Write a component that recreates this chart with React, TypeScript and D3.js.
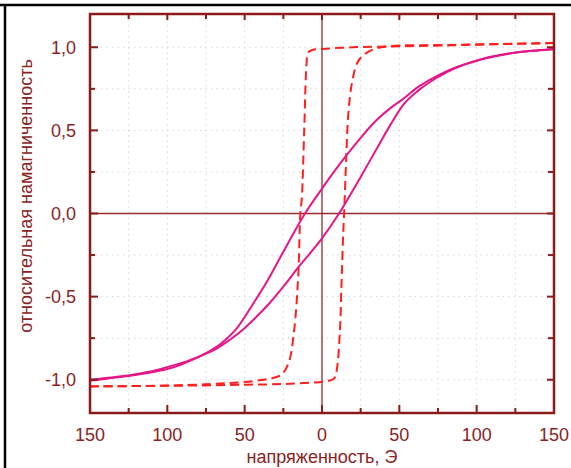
import React from "react";
import * as d3 from "d3";

// Magnetization loop (solid magenta), both branches listed with H increasing
// descending branch (upper one; coming from +saturation)
const solidDescX = [-150, -128, -110, -96, -85, -75, -65, -55, -45, -35, -25, -11, 0, 15, 25, 34, 45, 52.6, 62, 70, 80, 87, 97, 106, 118, 128, 140, 150];
const solidDescY = [-1.005, -0.98, -0.955, -0.925, -0.885, -0.84, -0.78, -0.69, -0.55, -0.40, -0.23, 0.0, 0.15, 0.34, 0.455, 0.55, 0.64, 0.69, 0.76, 0.805, 0.853, 0.88, 0.912, 0.936, 0.958, 0.972, 0.983, 0.99];
// ascending branch (lower one; coming from -saturation)
const solidAscX = [-150, -140, -128, -118, -106, -97, -87, -80, -70, -62, -52.6, -45, -34, -25, -15, 0, 11, 25, 36, 44, 52.6, 63, 74, 87, 97, 106, 118, 128, 140, 150];
const solidAscY = [-1.0, -0.99, -0.978, -0.963, -0.94, -0.915, -0.888, -0.862, -0.822, -0.775, -0.71, -0.645, -0.54, -0.44, -0.32, -0.15, 0.0, 0.22, 0.40, 0.53, 0.655, 0.745, 0.815, 0.878, 0.91, 0.934, 0.957, 0.971, 0.981, 0.988];

// Square loop (dashed red): descending branch (H from +150 to -150)
const dashDescX = [150, 120, 85, 42, 20, 0, -6, -9, -10, -11.5, -13, -14, -15.3, -18, -21.8, -27, -35, -51, -96, -150];
const dashDescY = [1.025, 1.02, 1.012, 1.004, 1.0, 0.99, 0.985, 0.968, 0.9, 0.5, 0.1, 0.0, -0.36, -0.7, -0.904, -0.974, -0.995, -1.014, -1.034, -1.04];
// ascending branch (H from -150 to +150)
const dashAscX = [-150, -96, -50, -20.7, 5, 8, 9.5, 11.6, 12.7, 13.8, 14.3, 15.5, 17, 19.6, 23.5, 31, 41.8, 85, 150];
const dashAscY = [-1.04, -1.036, -1.03, -1.024, -1.005, -0.99, -0.944, -0.703, -0.4, -0.1, 0.0, 0.295, 0.596, 0.797, 0.918, 0.978, 1.004, 1.014, 1.025];

const xMajorTicks = [-150, -100, -50, 0, 50, 100, 150];
const xMinorTicks = [-125, -75, -25, 25, 75, 125];
const yMajorTicks = [-1, -0.5, 0, 0.5, 1];
const yMinorTicks = [-0.75, -0.25, 0.25, 0.75];
const xGrid = [-125, -100, -75, -50, -25, 25, 50, 75, 100, 125];
const yGrid = [-1, -0.75, -0.5, -0.25, 0.25, 0.5, 0.75, 1];

const xTitle = "напряженность, Э";
const yTitle = "относительная намагниченность";

const W = 571;
const H = 468;
const L = 90, R = 554, T = 14, B = 413;

const axisColor = "#8B1A1A";
const textColor = "#8C2323";
const magenta = "#E5168A";
const red = "#FF1F1F";
const font = "'Liberation Sans', Arial, sans-serif";

export default function App() {
  const x = d3.scaleLinear().domain([-150, 150]).range([L, R]);
  const y = d3.scaleLinear().domain([-1.2, 1.2]).range([B, T]);
  const smooth = d3
    .line<[number, number]>()
    .x((d) => x(d[0]))
    .y((d) => y(d[1]))
    .curve(d3.curveMonotoneX);
  const dashed = d3
    .line<[number, number]>()
    .x((d) => x(d[0]))
    .y((d) => y(d[1]))
    .curve(d3.curveCatmullRom.alpha(0.5));
  const zip = (xs: number[], ys: number[]) => xs.map((v, i) => [v, ys[i]] as [number, number]);
  const fmtY = (v: number) => d3.format(".1f")(v).replace(".", ",").replace("−", "-");
  const fmtX = (v: number) => String(Math.abs(v));

  return (
    <svg
      width={W}
      height={H}
      style={{ position: "absolute", left: 0, top: 0, background: "#fff" }}
      fontFamily={font}
    >
      <rect x={0} y={0} width={W} height={H} fill="#fff" />
      {/* outer black frame */}
      <line x1={0} x2={W} y1={5} y2={5} stroke="#000" strokeWidth={2.5} />
      <line x1={5} x2={5} y1={5} y2={H} stroke="#000" strokeWidth={2.5} />

      {/* grid */}
      <g stroke="#d6d6d6" strokeWidth={1} strokeDasharray="1.5,4">
        {xGrid.map((v) => (
          <line key={"gx" + v} x1={x(v)} x2={x(v)} y1={T} y2={B} />
        ))}
        {yGrid.map((v) => (
          <line key={"gy" + v} x1={L} x2={R} y1={y(v)} y2={y(v)} />
        ))}
      </g>

      {/* zero lines */}
      <line x1={x(0)} x2={x(0)} y1={T} y2={B} stroke={axisColor} strokeOpacity={0.8} strokeWidth={1.5} />
      <line x1={L} x2={R} y1={y(0)} y2={y(0)} stroke={axisColor} strokeOpacity={0.9} strokeWidth={1.5} />

      {/* curves */}
      <g fill="none">
        <path d={dashed(zip(dashDescX, dashDescY)) || ""} stroke={red} strokeWidth={2} strokeDasharray="9,5" />
        <path d={dashed(zip(dashAscX, dashAscY)) || ""} stroke={red} strokeWidth={2} strokeDasharray="9,5" />
        <path d={smooth(zip(solidDescX, solidDescY)) || ""} stroke={magenta} strokeWidth={2} />
        <path d={smooth(zip(solidAscX, solidAscY)) || ""} stroke={magenta} strokeWidth={2} />
      </g>

      {/* ticks */}
      <g stroke={axisColor} strokeWidth={2}>
        {xMajorTicks.map((v) => (
          <g key={"xt" + v}>
            <line x1={x(v)} x2={x(v)} y1={B} y2={B - 8} />
            <line x1={x(v)} x2={x(v)} y1={T} y2={T + 6} />
          </g>
        ))}
        {xMinorTicks.map((v) => (
          <g key={"xm" + v}>
            <line x1={x(v)} x2={x(v)} y1={B} y2={B - 5} />
            <line x1={x(v)} x2={x(v)} y1={T} y2={T + 5} />
          </g>
        ))}
        {yMajorTicks.map((v) => (
          <g key={"yt" + v}>
            <line x1={L} x2={L + 8} y1={y(v)} y2={y(v)} />
            <line x1={R} x2={R - 7} y1={y(v)} y2={y(v)} />
          </g>
        ))}
        {yMinorTicks.map((v) => (
          <g key={"ym" + v}>
            <line x1={L} x2={L + 5} y1={y(v)} y2={y(v)} />
            <line x1={R} x2={R - 6} y1={y(v)} y2={y(v)} />
          </g>
        ))}
      </g>

      {/* frame */}
      <rect x={L} y={T} width={R - L} height={B - T} fill="none" stroke={axisColor} strokeWidth={2.5} />

      {/* tick labels */}
      <g fill={textColor} fontSize={18}>
        {xMajorTicks.map((v) => (
          <text key={"xl" + v} x={x(v)} y={441} textAnchor="middle">
            {fmtX(v)}
          </text>
        ))}
        {yMajorTicks.map((v) => (
          <text key={"yl" + v} x={76} y={y(v) + 6.5} textAnchor="end">
            {fmtY(v)}
          </text>
        ))}
      </g>

      {/* titles */}
      <text x={x(0)} y={463} textAnchor="middle" fill={textColor} fontSize={18}>
        {xTitle}
      </text>
      <text
        transform={`translate(32,196) rotate(-90)`}
        textAnchor="middle"
        fill={textColor}
        fontSize={18}
      >
        {yTitle}
      </text>
    </svg>
  );
}
